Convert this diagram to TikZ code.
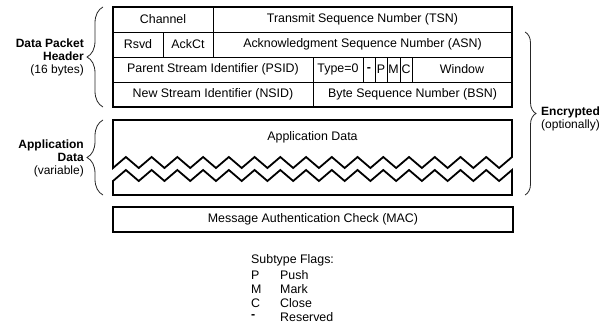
\documentclass[tikz,border=0pt]{standalone}
\usepackage{fontspec}
\setmainfont{Liberation Sans}
\usetikzlibrary{decorations.pathreplacing}
\newcommand\mainfs{\fontsize{12.4}{14}\selectfont}
\newcommand\labfs{\fontsize{12}{13}\selectfont}
\begin{document}
\begin{tikzpicture}[x=1pt,y=-1pt,
  cell/.style={draw, line width=0.8pt, minimum height=25pt, inner sep=0pt, font=\mainfs},
  outer/.style={draw, line width=1.8pt, inner sep=0pt, font=\mainfs},
  boxline/.style={line width=1.8pt, line join=miter},
  lbrace/.style={decorate, decoration={brace, amplitude=16pt}, line width=0.8pt, black!85},
  rbrace/.style={decorate, decoration={brace, amplitude=11pt}, line width=0.8pt, black!85},
  lab/.style={inner sep=0pt, font=\labfs},
  txt/.style={inner sep=0pt, font=\mainfs, anchor=west}]
\useasboundingbox (0,0) rectangle (609,326);
% header rows
\node[cell, minimum width=100pt] (chan) at (163,19.5) {Channel};
\node[cell, minimum width=299pt] (tsn) at (362.5,19.5) {Transmit Sequence Number (TSN)};
\node[cell, minimum width=50pt] (rsvd) at (138,44.5) {Rsvd};
\node[cell, minimum width=50pt] (ackct) at (188,44.5) {AckCt};
\node[cell, minimum width=299pt] (asn) at (362.5,44.5) {Acknowledgment Sequence Number (ASN)};
\node[cell, minimum width=200pt] (psid) at (213,69.5) {Parent Stream Identifier (PSID)};
\node[cell, minimum width=50pt] (type) at (338,69.5) {Type=0};
\node[cell, minimum width=12pt] (fr) at (369,69.5) {\textbf{-}};
\node[cell, minimum width=12pt] (fp) at (381,69.5) {P};
\node[cell, minimum width=13pt] (fm) at (393.5,69.5) {M};
\node[cell, minimum width=12pt] (fc) at (406,69.5) {C};
\node[cell, minimum width=100pt] (win) at (462,69.5) {Window};
\node[cell, minimum width=200pt] (nsid) at (213,94.5) {New Stream Identifier (NSID)};
\node[cell, minimum width=199pt] (bsn) at (412.5,94.5) {Byte Sequence Number (BSN)};
\node[outer, minimum width=399pt, minimum height=100pt] (hdr) at (312.5,57) {};
% application data
\draw[boxline] (512,157) -- (512,120) -- (113,120) -- (113,168)
  \foreach \k in {0,...,14}{ -- ({125.87+25.74*\k},157) -- ({138.74+25.74*\k},168)} -- cycle;
\draw[boxline] (512,170) -- (512,195) -- (113,195) -- (113,181)
  \foreach \k in {0,...,14}{ -- ({125.87+25.74*\k},170) -- ({138.74+25.74*\k},181)} -- cycle;
\node[inner sep=0pt, font=\mainfs] (apptxt) at (312.5,137) {Application Data};
% MAC
\node[outer, minimum width=400pt, minimum height=25pt] (mac) at (313,219.5) {Message Authentication Check (MAC)};
% braces
\coordinate (hb1) at (103,107); \coordinate (hb2) at (103,7);
\coordinate (ab1) at (103,195); \coordinate (ab2) at (103,120);
\coordinate (eb1) at (525,32); \coordinate (eb2) at (525,195);
\draw[lbrace] (hb1) -- (hb2);
\draw[lbrace] (ab1) -- (ab2);
\draw[rbrace] (eb1) -- (eb2);
% side labels
\node[lab, anchor=east, align=right] (hdrlab) at (84,57) {\textbf{Data Packet}\\\textbf{Header}\\(16 bytes)};
\node[lab, anchor=east, align=right] (applab) at (84,158) {\textbf{Application}\\\textbf{Data}\\(variable)};
\node[lab, anchor=west, align=left] (enclab) at (541,118.5) {\textbf{Encrypted}\\(optionally)};
% legend
\node[txt] (leg) at (251,260) {Subtype Flags:};
\node[txt] (lp) at (251,275) {P};
\node[txt] (lm) at (251,289) {M};
\node[txt] (lc) at (251,303) {C};
\node[txt] (lr) at (251,317) {\textbf{-}};
\node[txt] (wp) at (280,275) {Push};
\node[txt] (wm) at (280,289) {Mark};
\node[txt] (wc) at (280,303) {Close};
\node[txt] (wr) at (280,317) {Reserved};
\end{tikzpicture}
\end{document}
